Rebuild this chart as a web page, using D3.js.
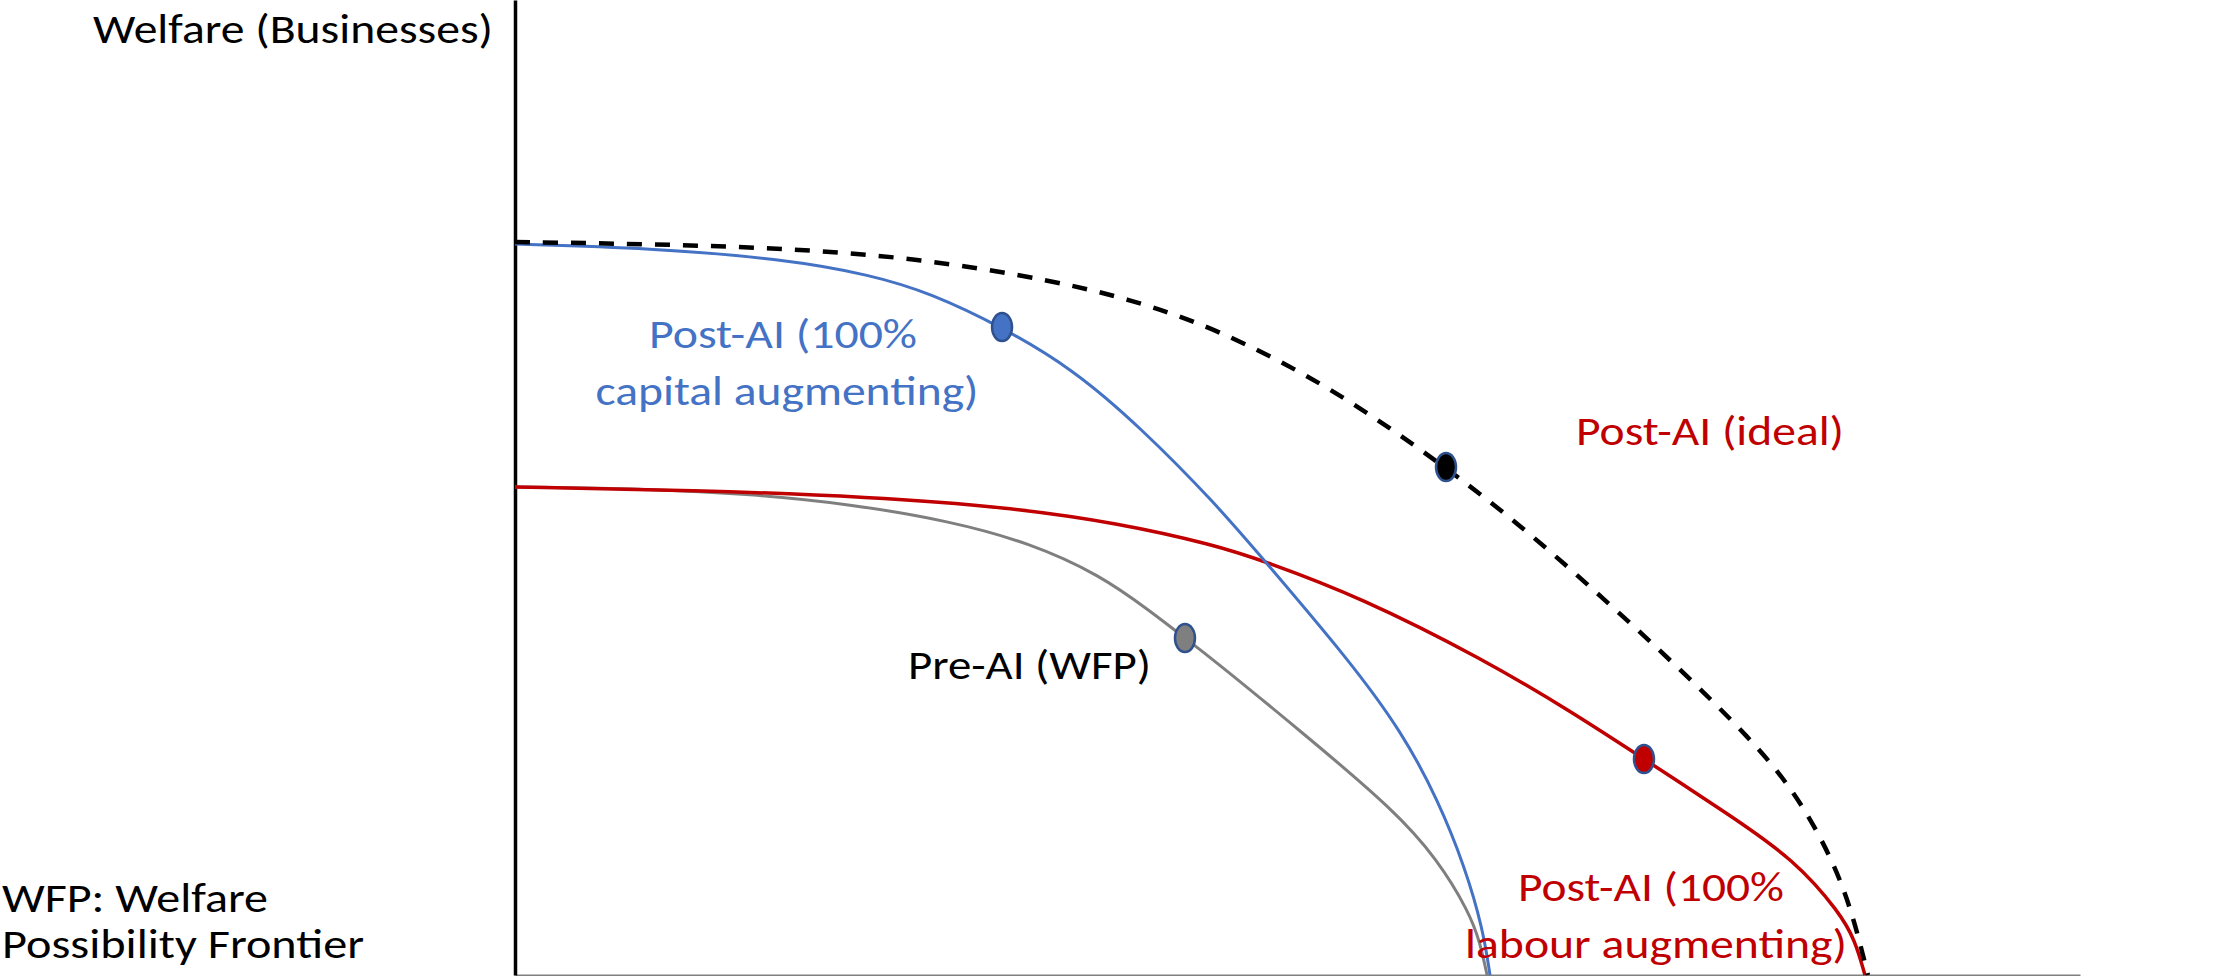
<!DOCTYPE html>
<html>
<head>
<meta charset="utf-8">
<script src="https://cdn.jsdelivr.net/npm/d3@7"></script>
<style>
  html, body { margin: 0; padding: 0; background: #ffffff; }
  svg { display: block; }
  text { font-family: Carlito, Calibri, Lato, "Open Sans", sans-serif; }
</style>
</head>
<body>
<div id="chart"></div>
<script>
// ---- Data (x = welfare of workers, y = welfare of businesses, arbitrary units 0-100) ----
const preAI_x   = [0, 8.63, 15.02, 21.41, 27.80, 32.91, 37.38, 40.58, 42.81, 44.73, 50.42, 56.17, 58.98, 60.96, 61.66, 62.11];
const preAI_y   = [50.05, 49.85, 49.33, 48.31, 46.56, 44.31, 41.03, 37.33, 34.56, 32.21, 24.72, 16.92, 11.79, 6.46, 3.38, 0];

const capital_x = [0, 8.63, 17.12, 22.81, 26.52, 31.12, 35.65, 39.94, 44.73, 47.86, 53.29, 56.68, 58.98, 60.70, 61.85, 62.30];
const capital_y = [74.97, 74.56, 73.44, 71.79, 69.95, 66.46, 62.15, 56.21, 48.41, 42.56, 32.31, 24.92, 17.95, 11.08, 4.72, 0];

const labour_x  = [0, 11.44, 22.81, 31.37, 38.53, 44.73, 47.86, 53.99, 61.85, 67.54, 72.14, 77.51, 81.79, 84.66, 85.62, 86.26];
const labour_y  = [50.05, 49.74, 49.03, 48.00, 46.36, 44.10, 42.46, 38.77, 32.41, 26.97, 22.15, 16.51, 11.79, 6.36, 3.59, 0];

const ideal_x   = [0, 8.56, 17.12, 25.69, 34.25, 39.49, 44.73, 52.08, 59.49, 64.54, 69.52, 74.25, 78.98, 81.79, 84.09, 85.43, 86.45];
const ideal_y   = [75.18, 74.97, 74.56, 73.54, 71.28, 69.23, 66.36, 60.41, 52.10, 45.74, 38.67, 31.69, 24.21, 18.77, 12.21, 6.56, 0];

// Highlighted points on each frontier
const pointNames = ["capital", "ideal", "preAI", "labour"];
const point_x    = [31.12, 59.49, 42.81, 72.14];
const point_y    = [66.46, 52.10, 34.56, 22.15];

// Text labels
const axisTitle  = "Welfare (Businesses)";
const noteLines  = ["WFP: Welfare", "Possibility Frontier"];
const capitalLabel = ["Post-AI (100%", "capital augmenting)"];
const labourLabel  = ["Post-AI (100%", "labour augmenting)"];
const idealLabel   = "Post-AI (ideal)";
const preLabel     = "Pre-AI (WFP)";

// ---- Layout ----
const W = 2236, H = 976;
const colors = { capital: "#4472C4", labour: "#C00000", preAI: "#7F7F7F", ideal: "#000000" };
const dotStroke = "#2F528F";
const FS = 41;

const svg = d3.select("#chart").append("svg").attr("width", W).attr("height", H);

const x = d3.scaleLinear().domain([0, 100]).range([515, 2080]);
const y = d3.scaleLinear().domain([0, 100]).range([975, 0]);

// Axes (no ticks)
const xAxis = d3.axisBottom(x).ticks(0).tickSize(0).tickSizeOuter(0);
const yAxis = d3.axisLeft(y).ticks(0).tickSize(0).tickSizeOuter(0);
svg.append("g").attr("transform", `translate(0,${y(0)})`).call(xAxis)
  .call(g => g.select(".domain").attr("stroke", "#808080").attr("stroke-width", 2));
svg.append("g").attr("transform", `translate(${x(0)},0)`).call(yAxis)
  .call(g => g.select(".domain").attr("stroke", "#000").attr("stroke-width", 3.5));

// Curves
const line = d3.line().x(d => x(d[0])).y(d => y(d[1])).curve(d3.curveBasis);
const zip = (a, b) => a.map((v, i) => [v, b[i]]);

svg.append("path").datum(zip(preAI_x, preAI_y)).attr("d", line)
  .attr("fill", "none").attr("stroke", colors.preAI).attr("stroke-width", 3);
svg.append("path").datum(zip(labour_x, labour_y)).attr("d", line)
  .attr("fill", "none").attr("stroke", colors.labour).attr("stroke-width", 3.5);
svg.append("path").datum(zip(capital_x, capital_y)).attr("d", line)
  .attr("fill", "none").attr("stroke", colors.capital).attr("stroke-width", 3);
svg.append("path").datum(zip(ideal_x, ideal_y)).attr("d", line)
  .attr("fill", "none").attr("stroke", colors.ideal).attr("stroke-width", 4.5)
  .attr("stroke-dasharray", "15,13");

// Dots
svg.selectAll("ellipse.pt").data(pointNames).enter().append("ellipse")
  .attr("class", "pt")
  .attr("cx", (d, i) => x(point_x[i]))
  .attr("cy", (d, i) => y(point_y[i]))
  .attr("rx", 10).attr("ry", 14)
  .attr("fill", d => colors[d])
  .attr("stroke", dotStroke).attr("stroke-width", 2.5);

// Text helper
function label(tx, ty, str, color, anchor, len) {
  const t = svg.append("text").attr("x", tx).attr("y", ty).text(str)
    .attr("fill", color).attr("font-size", FS).attr("text-anchor", anchor || "start");
  if (len) t.attr("textLength", len).attr("lengthAdjust", "spacingAndGlyphs");
  return t;
}

label(493, 43, axisTitle, "#000", "end", 400);
label(2, 912, noteLines[0], "#000", "start", 266);
label(2, 958, noteLines[1], "#000", "start", 362);

label(783, 348, capitalLabel[0], colors.capital, "middle", 268);
label(787, 405, capitalLabel[1], colors.capital, "middle", 383);

label(1576, 445, idealLabel, colors.labour, "start", 268);
label(908, 679, preLabel, "#000", "start", 243);

label(1651, 901, labourLabel[0], colors.labour, "middle", 266);
label(1656, 958, labourLabel[1], colors.labour, "middle", 382);
</script>
</body>
</html>
